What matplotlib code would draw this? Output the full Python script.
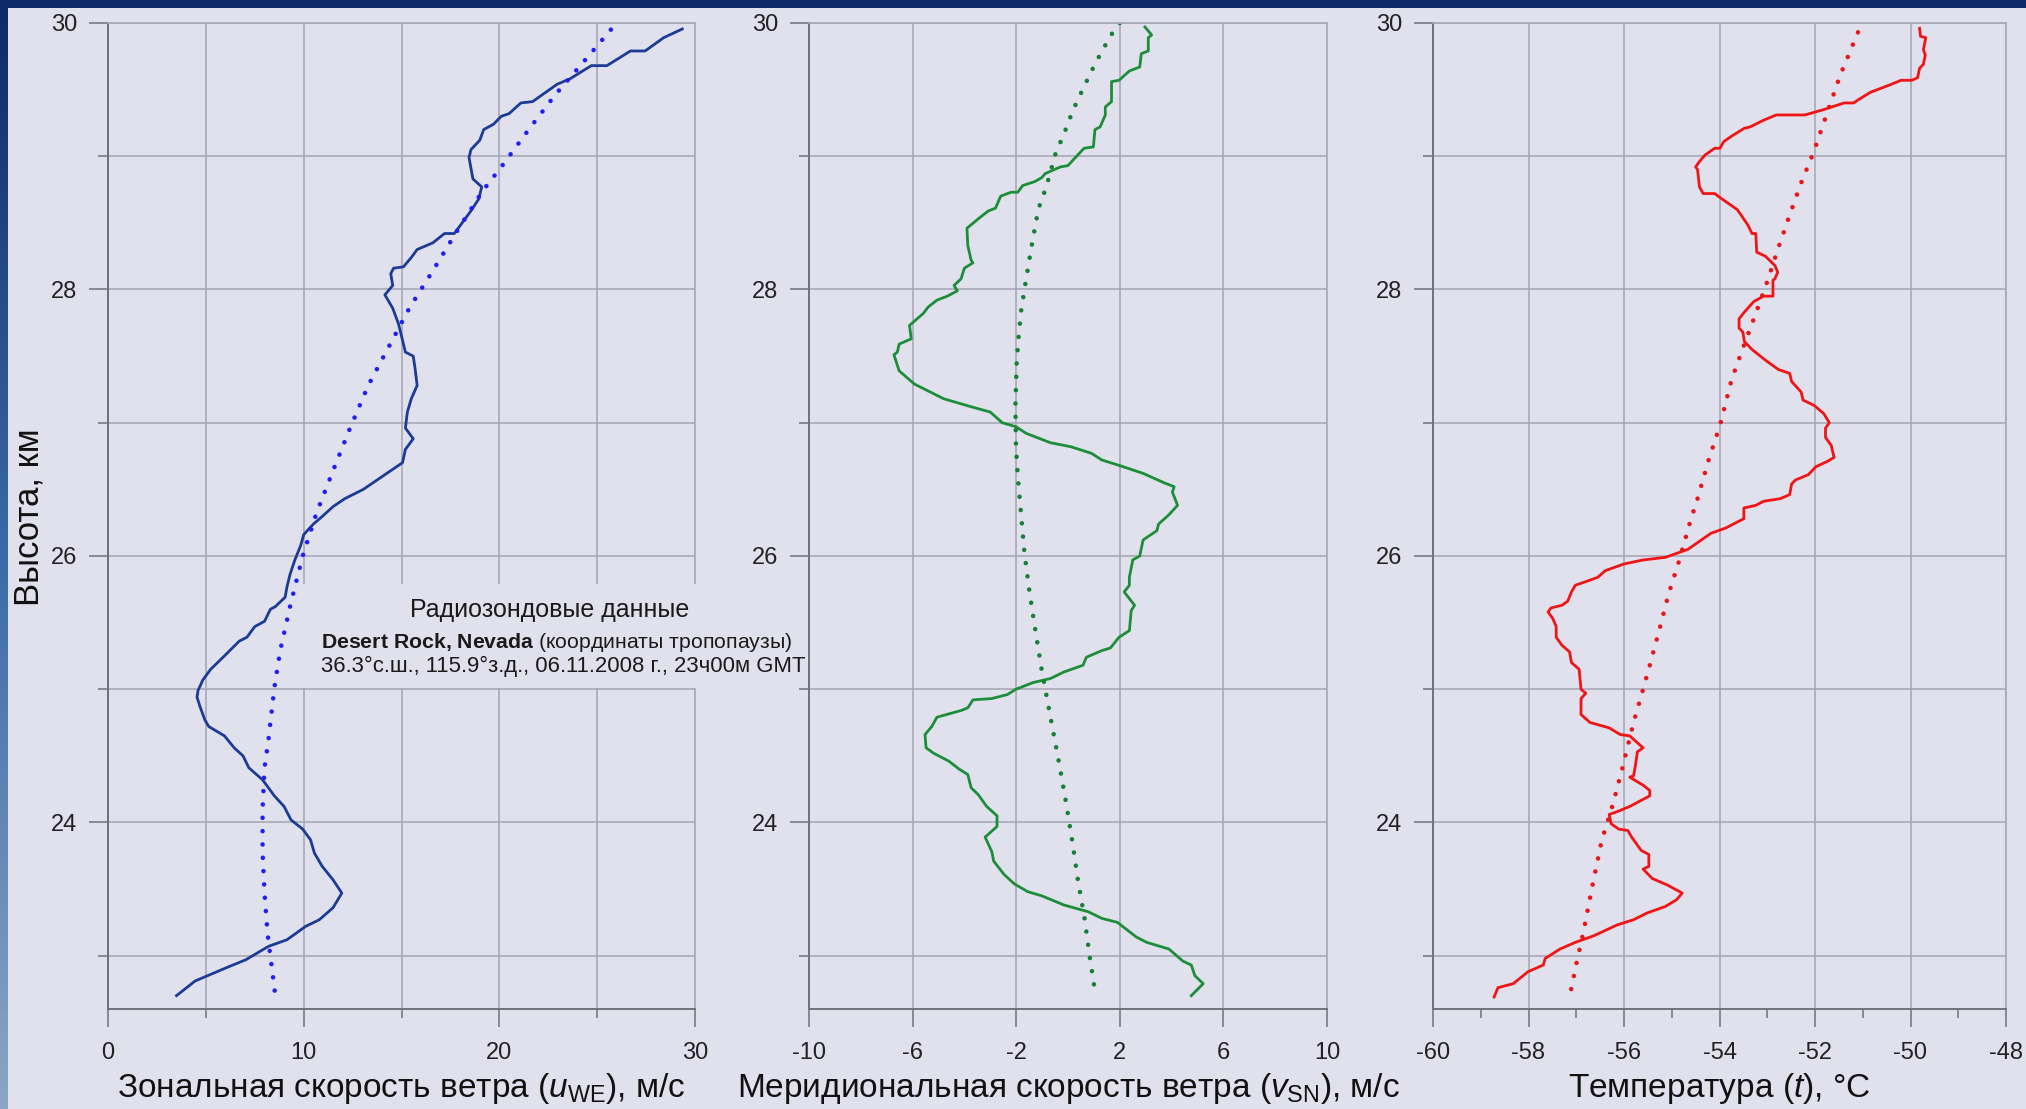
import numpy as np
import matplotlib
matplotlib.use('Agg')
from matplotlib import pyplot as plt
from matplotlib.patches import Rectangle
from matplotlib.colors import LinearSegmentedColormap

plt.rcParams['font.family'] = ['Liberation Sans', 'DejaVu Sans']
plt.rcParams['axes.unicode_minus'] = False
plt.rcParams['mathtext.fontset'] = 'custom'
plt.rcParams['mathtext.rm'] = 'Liberation Sans'
plt.rcParams['mathtext.it'] = 'Liberation Sans:italic'
plt.rcParams['mathtext.bf'] = 'Liberation Sans:bold'

# --- data: (height km, value) -----------------------------------------------
u_profile = [
    (29.955, 29.35), (29.89, 28.4), (29.79, 27.45), (29.79, 26.7), (29.68, 25.5),
    (29.68, 24.7), (29.58, 23.6), (29.54, 22.95), (29.41, 21.7), (29.40, 21.1),
    (29.32, 20.5), (29.30, 20.1), (29.24, 19.7), (29.20, 19.2), (29.12, 19.0),
    (29.05, 18.55), (28.99, 18.45), (28.83, 18.65), (28.77, 19.1), (28.68, 18.95),
    (28.59, 18.55), (28.49, 18.05), (28.42, 17.7), (28.42, 17.2), (28.35, 16.6),
    (28.30, 15.8), (28.24, 15.5), (28.17, 15.1), (28.16, 14.6), (28.12, 14.45),
    (28.03, 14.55), (27.96, 14.15), (27.86, 14.55), (27.74, 14.85), (27.62, 15.05),
    (27.53, 15.2), (27.50, 15.6), (27.40, 15.7), (27.28, 15.8), (27.18, 15.5),
    (27.08, 15.3), (26.96, 15.2), (26.88, 15.6), (26.80, 15.2), (26.70, 15.05),
    (26.60, 14.05), (26.50, 13.05), (26.43, 12.1), (26.37, 11.5), (26.29, 10.9),
    (26.24, 10.5), (26.16, 10.0), (26.08, 9.85), (25.97, 9.55), (25.86, 9.3),
    (25.77, 9.15), (25.69, 9.05), (25.62, 8.55), (25.60, 8.3), (25.51, 8.0),
    (25.47, 7.5), (25.39, 7.1), (25.36, 6.7), (25.25, 5.95), (25.15, 5.25),
    (25.07, 4.85), (24.99, 4.6), (24.94, 4.55), (24.87, 4.7), (24.77, 4.95),
    (24.72, 5.15), (24.65, 5.95), (24.56, 6.45), (24.50, 6.9), (24.41, 7.2),
    (24.32, 7.9), (24.20, 8.5), (24.12, 9.0), (24.02, 9.35), (23.95, 9.95),
    (23.87, 10.35), (23.77, 10.55), (23.67, 10.95), (23.57, 11.5), (23.47, 11.95),
    (23.36, 11.5), (23.27, 10.8), (23.22, 10.1), (23.12, 9.15), (23.07, 8.2),
    (22.97, 7.05), (22.91, 6.05), (22.86, 5.25), (22.81, 4.45), (22.70, 3.5),
]
u_trend = [
    (29.95, 25.7), (29.69, 24.2), (29.46, 22.85), (29.20, 21.5), (28.94, 20.2),
    (28.74, 19.15), (28.43, 17.8), (28.14, 16.6), (27.86, 15.4), (27.57, 14.35),
    (27.28, 13.3), (26.97, 12.4), (26.64, 11.5), (26.32, 10.65), (26.00, 9.95),
    (25.65, 9.35), (25.29, 8.8), (25.01, 8.5), (24.62, 8.2), (24.41, 8.0),
    (24.10, 7.9), (23.78, 7.9), (23.47, 8.0), (23.17, 8.15), (22.88, 8.4),
    (22.70, 8.55),
]

v_profile = [
    (29.97, 2.97), (29.91, 3.23), (29.89, 3.1), (29.79, 3.1), (29.77, 2.83),
    (29.67, 2.77), (29.64, 2.37), (29.57, 1.97), (29.56, 1.68), (29.41, 1.68),
    (29.37, 1.44), (29.31, 1.44), (29.22, 1.24), (29.20, 1.04), (29.07, 0.98),
    (29.06, 0.62), (29.01, 0.38), (28.93, 0.0), (28.92, -0.29), (28.87, -0.88),
    (28.84, -1.01), (28.81, -1.28), (28.78, -1.75), (28.73, -1.94), (28.73, -2.2),
    (28.70, -2.6), (28.61, -2.8), (28.59, -3.07), (28.55, -3.34), (28.46, -3.9),
    (28.33, -3.87), (28.22, -3.74), (28.20, -3.67), (28.16, -4.0), (28.08, -4.13),
    (28.03, -4.4), (27.99, -4.27), (27.95, -4.66), (27.92, -5.06), (27.87, -5.39),
    (27.82, -5.59), (27.73, -6.12), (27.63, -6.05), (27.59, -6.52), (27.53, -6.59),
    (27.51, -6.72), (27.39, -6.52), (27.29, -5.93), (27.18, -4.8), (27.12, -3.74),
    (27.08, -3.0), (27.00, -2.54), (26.97, -2.01), (26.92, -1.61), (26.85, -0.68),
    (26.82, 0.11), (26.77, 0.91), (26.72, 1.31), (26.68, 1.97), (26.62, 2.9),
    (26.55, 3.7), (26.52, 4.1), (26.48, 4.03), (26.38, 4.23), (26.31, 3.9),
    (26.24, 3.5), (26.19, 3.43), (26.12, 2.9), (26.00, 2.77), (25.97, 2.5),
    (25.84, 2.37), (25.78, 2.37), (25.73, 2.17), (25.63, 2.57), (25.59, 2.44),
    (25.44, 2.37), (25.39, 1.97), (25.31, 1.64), (25.29, 1.31), (25.24, 0.71),
    (25.18, 0.58), (25.13, -0.15), (25.08, -0.68), (25.05, -1.35), (25.00, -2.01),
    (24.96, -2.34), (24.93, -2.94), (24.92, -3.67), (24.86, -3.87), (24.84, -4.13),
    (24.79, -5.06), (24.72, -5.26), (24.66, -5.52), (24.56, -5.48), (24.52, -5.19),
    (24.46, -4.6), (24.40, -4.2), (24.36, -3.87), (24.26, -3.74), (24.21, -3.47),
    (24.12, -3.14), (24.05, -2.74), (23.97, -2.74), (23.89, -3.2), (23.78, -2.94),
    (23.71, -2.87), (23.61, -2.47), (23.54, -2.08), (23.48, -1.55), (23.45, -1.02),
    (23.38, -0.15), (23.33, 0.78), (23.28, 1.31), (23.25, 1.91), (23.14, 2.64),
    (23.10, 3.04), (23.05, 3.9), (22.96, 4.43), (22.93, 4.76), (22.85, 4.9),
    (22.79, 5.22), (22.70, 4.76),
]
v_trend = [
    (30.00, 2.0), (29.93, 1.73), (29.79, 1.31), (29.64, 0.91), (29.49, 0.54),
    (29.34, 0.18), (29.17, -0.15), (29.02, -0.48), (28.77, -0.84), (28.60, -1.15),
    (28.32, -1.41), (28.05, -1.64), (27.84, -1.81), (27.66, -1.9), (27.46, -1.98),
    (27.13, -2.03), (26.83, -2.01), (26.60, -1.94), (26.40, -1.85), (26.02, -1.68),
    (25.72, -1.48), (25.43, -1.25), (25.15, -1.02), (24.96, -0.84), (24.69, -0.58),
    (24.41, -0.31), (24.12, -0.05), (23.84, 0.18), (23.57, 0.38), (23.28, 0.64),
    (22.99, 0.84), (22.70, 1.07),
]

t_profile = [
    (29.96, -49.81), (29.90, -49.79), (29.89, -49.68), (29.80, -49.73), (29.76, -49.69),
    (29.69, -49.73), (29.66, -49.81), (29.59, -49.85), (29.57, -49.97), (29.57, -50.2),
    (29.54, -50.4), (29.48, -50.84), (29.42, -51.11), (29.40, -51.19), (29.40, -51.39),
    (29.35, -51.82), (29.31, -52.21), (29.31, -52.45), (29.31, -52.81), (29.27, -53.08),
    (29.22, -53.36), (29.21, -53.48), (29.15, -53.75), (29.11, -53.91), (29.06, -53.99),
    (29.06, -54.1), (29.01, -54.3), (28.96, -54.42), (28.92, -54.5), (28.90, -54.46),
    (28.77, -54.42), (28.72, -54.34), (28.72, -54.1), (28.69, -53.99), (28.62, -53.71),
    (28.60, -53.63), (28.56, -53.55), (28.48, -53.4), (28.42, -53.32), (28.42, -53.24),
    (28.28, -53.22), (28.25, -53.04), (28.18, -52.84), (28.13, -52.78), (28.08, -52.84),
    (28.07, -52.88), (27.95, -52.88), (27.95, -53.08), (27.91, -53.28), (27.83, -53.48),
    (27.78, -53.59), (27.71, -53.59), (27.68, -53.51), (27.61, -53.48), (27.55, -53.32),
    (27.47, -53.04), (27.40, -52.77), (27.37, -52.53), (27.31, -52.49), (27.23, -52.29),
    (27.17, -52.25), (27.13, -52.02), (27.07, -51.82), (27.00, -51.7), (26.96, -51.78),
    (26.89, -51.78), (26.83, -51.66), (26.74, -51.6), (26.71, -51.74), (26.67, -51.98),
    (26.61, -52.14), (26.57, -52.41), (26.54, -52.49), (26.46, -52.53), (26.43, -52.73),
    (26.41, -53.08), (26.38, -53.24), (26.36, -53.49), (26.28, -53.49), (26.21, -53.87),
    (26.17, -54.18), (26.13, -54.34), (26.05, -54.66), (25.99, -55.13), (25.97, -55.6),
    (25.94, -56.0), (25.89, -56.39), (25.84, -56.55), (25.81, -56.78), (25.78, -57.02),
    (25.73, -57.1), (25.66, -57.18), (25.63, -57.3), (25.61, -57.53), (25.58, -57.59),
    (25.53, -57.49), (25.47, -57.42), (25.39, -57.42), (25.33, -57.3), (25.28, -57.14),
    (25.20, -57.1), (25.15, -56.94), (25.00, -56.9), (24.97, -56.8), (24.93, -56.9),
    (24.81, -56.9), (24.75, -56.71), (24.71, -56.31), (24.66, -56.08), (24.65, -55.88),
    (24.56, -55.6), (24.53, -55.72), (24.43, -55.76), (24.35, -55.8), (24.34, -55.88),
    (24.28, -55.6), (24.24, -55.46), (24.20, -55.46), (24.12, -55.88), (24.08, -56.15),
    (24.06, -56.31), (23.99, -56.27), (23.95, -56.11), (23.94, -55.92), (23.89, -55.84),
    (23.79, -55.64), (23.76, -55.48), (23.67, -55.48), (23.65, -55.6), (23.58, -55.41),
    (23.53, -55.09), (23.47, -54.78), (23.42, -54.9), (23.37, -55.13), (23.32, -55.52),
    (23.27, -55.8), (23.23, -56.15), (23.15, -56.63), (23.10, -57.02), (23.05, -57.34),
    (22.98, -57.65), (22.93, -57.69), (22.88, -58.01), (22.79, -58.32), (22.76, -58.64),
    (22.69, -58.72),
]
t_trend = [
    (29.93, -51.1), (29.61, -51.47), (29.29, -51.78), (29.04, -52.02), (28.80, -52.29),
    (28.56, -52.53), (28.31, -52.77), (28.06, -53.0), (27.82, -53.24), (27.56, -53.51),
    (27.32, -53.75), (26.98, -53.99), (26.73, -54.22), (26.38, -54.5), (26.30, -54.58),
    (25.96, -54.85), (25.71, -55.07), (25.46, -55.25), (25.18, -55.46), (25.00, -55.6),
    (24.75, -55.8), (24.40, -56.04), (24.14, -56.23), (23.86, -56.47), (23.51, -56.67),
    (23.16, -56.86), (22.97, -56.98), (22.69, -57.14),
]

x_labels = [r'Зональная скорость ветра ($\mathit{u}_{\mathrm{WE}}$), м/с',
            r'Меридиональная скорость ветра ($\mathit{v}_{\mathrm{SN}}$), м/с',
            r'Температура ($\mathit{t}$), °C']
y_label = 'Высота, км'
note_title = 'Радиозондовые данные'
note_place = r'$\mathbf{Desert\ Rock{,}\ Nevada}$ (координаты тропопаузы)'
note_info = '36.3°с.ш., 115.9°з.д., 06.11.2008 г., 23ч00м GMT'

W, H = 2026, 1109
BG = '#e1e0ed'
GRID = '#a9a8b7'
SPINE = '#707079'


def frac(x0, y0, x1, y1):
    # pixel box (top-left origin) -> figure fraction rect
    return [x0 / W, 1 - y1 / H, (x1 - x0) / W, (y1 - y0) / H]


def style_axis(ax, xlim, xmajor, xminor, minor_grid):
    ax.set_facecolor('none')
    ax.set_xlim(*xlim)
    ax.set_ylim(22.6, 30)
    ax.set_xticks(xmajor)
    ax.set_xticks(xminor, minor=True)
    ax.set_yticks([24, 26, 28, 30])
    ax.set_yticks([23, 25, 27, 29], minor=True)
    ax.set_axisbelow(True)
    ax.grid(which='major', color=GRID, lw=1.2)
    ax.grid(which='minor', axis='y', color=GRID, lw=1.2)
    if minor_grid:
        ax.grid(which='minor', axis='x', color=GRID, lw=1.2)
    for side in ('top', 'right'):
        ax.spines[side].set_color(GRID)
        ax.spines[side].set_linewidth(1.2)
    for side in ('left', 'bottom'):
        ax.spines[side].set_color(SPINE)
        ax.spines[side].set_linewidth(1.4)
    ax.tick_params(axis='y', which='major', length=14, width=1.1, color=SPINE,
                   pad=8, labelsize=17, labelcolor='#222222')
    ax.tick_params(axis='y', which='minor', length=7, width=1.1, color=SPINE)
    ax.tick_params(axis='x', which='major', length=13, width=1.1, color=SPINE,
                   pad=11, labelsize=17, labelcolor='#222222')
    ax.tick_params(axis='x', which='minor', length=6.5, width=1.1, color=SPINE)


def draw(ax, profile, trend, solid_c, dot_c):
    alt, val = np.array(profile).T
    ax.plot(val, alt, color=solid_c, lw=2.0, solid_joinstyle='round')
    alt, val = np.array(trend).T
    ax.plot(val, alt, color=dot_c, lw=3.3, linestyle=(0, (0.01, 2.9)),
            dash_capstyle='round')


def main():
    fig = plt.figure(figsize=(W / 100, H / 100), dpi=100, facecolor='#0d2b66')
    fig.add_artist(Rectangle((8 / W, 0), 1 - 8 / W, 1 - 8 / H, transform=fig.transFigure,
                             facecolor=BG, edgecolor='none', zorder=-10))
    band = fig.add_axes(frac(0, 8, 8, H), zorder=-5)
    grad = np.linspace(0, 1, 256).reshape(-1, 1)
    band.imshow(grad, aspect='auto',
                cmap=LinearSegmentedColormap.from_list('b', ['#0d2b66', '#3c6aa8', '#8aa6c4']))
    band.axis('off')

    top, bottom = 23, 1009
    ax1 = fig.add_axes(frac(108, top, 695, bottom))
    ax2 = fig.add_axes(frac(809, top, 1327, bottom))
    ax3 = fig.add_axes(frac(1433, top, 2006, bottom))

    style_axis(ax1, (0, 30), [0, 10, 20, 30], [5, 15, 25], True)
    style_axis(ax2, (-10, 10), [-10, -6, -2, 2, 6, 10], [], False)
    style_axis(ax3, (-60, -48), list(range(-60, -47, 2)), list(range(-59, -48, 2)), False)

    draw(ax1, u_profile, u_trend, '#1b3c95', '#1e1ef5')
    draw(ax2, v_profile, v_trend, '#1c8e3a', '#178034')
    draw(ax3, t_profile, t_trend, '#f01414', '#ea1616')

    for ax, lab in zip((ax1, ax2, ax3), x_labels):
        ax.set_xlabel(lab, fontsize=24, color='#111111')
        ax.xaxis.set_label_coords(0.5, (bottom - 1089) / (bottom - top))
        ax.xaxis.label.set_va('center')

    fig.text(29 / W, 1 - 517 / H, y_label, rotation=90, fontsize=25,
             ha='center', va='center', color='#111111')

    # note box over the first panel
    fig.add_artist(Rectangle((300 / W, 1 - 688 / H), 506 / W, 104 / H,
                             transform=fig.transFigure, facecolor=BG,
                             edgecolor='none', zorder=1))
    fig.text(550 / W, 1 - 610 / H, note_title, fontsize=18, ha='center',
             va='center', color='#1a1a1a', zorder=2)
    fig.text(321 / W, 1 - 642 / H, note_place, fontsize=15.3, ha='left',
             va='center', color='#1a1a1a', zorder=2)
    fig.text(321 / W, 1 - 666 / H, note_info, fontsize=15.9, ha='left',
             va='center', color='#1a1a1a', zorder=2)

    fig.savefig('out.png', dpi=100, facecolor=fig.get_facecolor())


if __name__ == '__main__':
    main()
